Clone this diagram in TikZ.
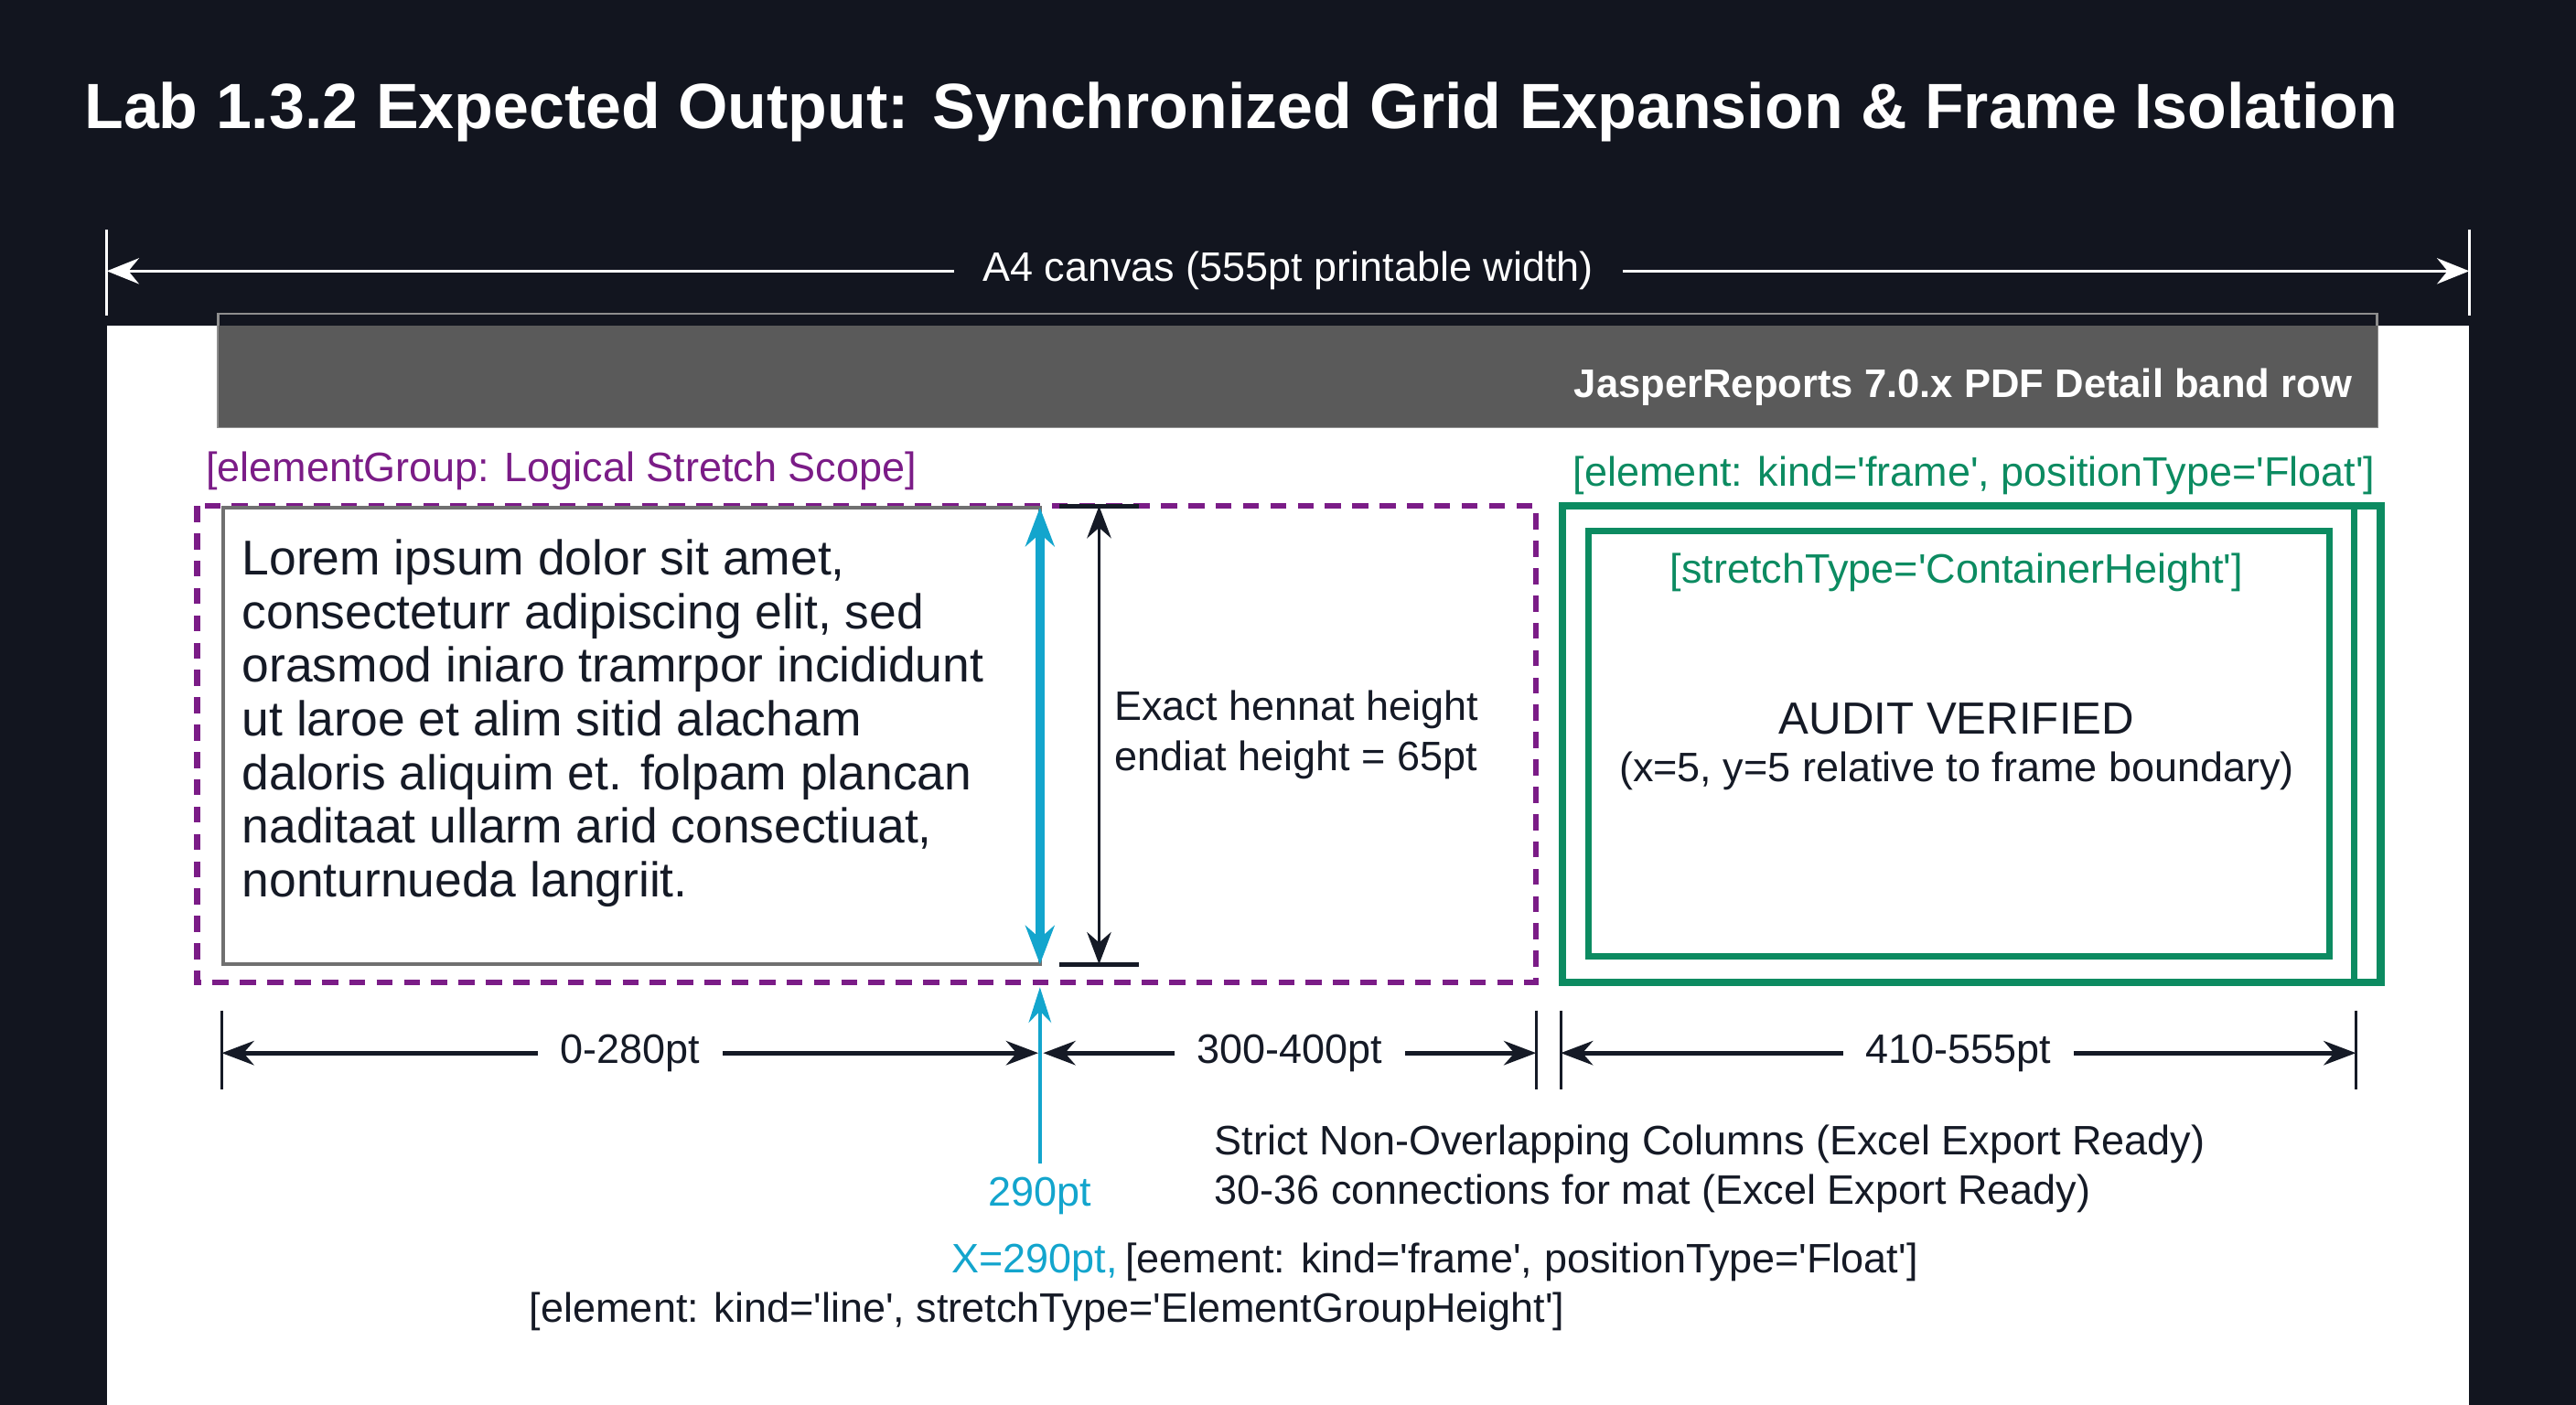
\documentclass[tikz,border=0pt]{standalone}
\usepackage{fontspec}
\setmainfont{Liberation Sans}
\usetikzlibrary{arrows.meta,positioning}
\definecolor{night}{HTML}{12151F}
\definecolor{band}{HTML}{5A5A5A}
\definecolor{bandrim}{HTML}{8E8E8E}
\definecolor{ink}{HTML}{151A26}
\definecolor{group}{HTML}{7B1C87}
\definecolor{frame}{HTML}{0C8B61}
\definecolor{sky}{HTML}{13A5CD}
\definecolor{rim}{HTML}{707070}
\newcommand{\sq}{\textquotesingle}
\tikzset{
  dimw/.style={draw=white, line width=1pt, {Stealth[length=10pt,width=8pt]}-{Stealth[length=10pt,width=8pt]}},
  dimk/.style={draw=ink, line width=1.4pt, {Stealth[length=10pt,width=7.5pt]}-{Stealth[length=10pt,width=7.5pt]}},
  dimc/.style={draw=sky, line width=2.8pt, {Stealth[length=12pt,width=9pt]}-{Stealth[length=12pt,width=9pt]}},
  tickw/.style={draw=white, line width=0.9pt},
  tickk/.style={draw=ink, line width=0.8pt},
  grp/.style={draw=group, line width=1.8pt, dash pattern=on 5pt off 3.5pt},
  frm/.style={draw=frame, line width=2.4pt},
  lab/.style={text=ink, font=\fontsize{12.8}{16.7}\selectfont, inner sep=0pt},
  labw/.style={lab, text=white},
  labc/.style={lab, text=sky},
  dlab/.style={lab, fill=white, inner xsep=7pt, inner ysep=2pt},
}

\begin{document}
\begin{tikzpicture}[x=0.0179592cm, y=-0.0179592cm]
  \useasboundingbox[fill=night] (0,0) rectangle (1568,855);
  % page and band
  \fill[white] (65,198) rectangle (1503,855);
  \draw[bandrim, line width=0.8pt] (133,191) rectangle (1447,260);
  \fill[band] (133,198) rectangle (1447,260);
  \node[labw, anchor=base west, font=\bfseries\fontsize{19.9}{24}\selectfont] (title) at (51,78) {Lab 1.3.2 Expected Output: Synchronized Grid Expansion \& Frame Isolation};
  \node[labw, anchor=base east, font=\bfseries\fontsize{12.4}{15}\selectfont] (bandrow) at (1432,242) {JasperReports 7.0.x PDF Detail band row};

  % canvas width
  \coordinate (CL) at (65,165);
  \coordinate (CR) at (1503,165);
  \foreach \x in {65,1503}
    \draw[tickw] (\x,140) -- (\x,192);
  \draw[dimw] (CL) -- (CR) node[midway, labw, fill=night, inner xsep=9pt, inner ysep=3pt] (canvas) {A4 canvas (555pt printable width)};

  % element group
  \node[lab, text=group, anchor=base west] (grplab) at (125,293) {[elementGroup: Logical Stretch Scope]};
  \draw[grp] (120,308) rectangle (935,598);
  \draw[rim, line width=1pt] (136,309) rectangle (633,587);
  \node[lab, anchor=base west, align=left, font=\fontsize{15.2}{16.7}\selectfont] (body) at (147,546)
    {Lorem ipsum dolor sit amet,\\consecteturr adipiscing elit, sed\\orasmod iniaro tramrpor incididunt\\ut laroe et alim sitid alacham\\daloris aliquim et. folpam plancan\\naditaat ullarm arid consectiuat,\\nonturnueda langriit.};
  \coordinate (HT) at (669,308);
  \coordinate (HB) at (669,587);
  \coordinate (ST) at (633,309);
  \coordinate (SB) at (633,587);
  \draw[tickk, line width=1.4pt] (645,308) -- (693,308);
  \draw[tickk, line width=1.4pt] (645,587) -- (693,587);
  \draw[dimk, line width=1.1pt] (HT) -- (HB);
  \draw[dimc] (ST) -- (SB);
  \node[lab, anchor=base west, align=left, font=\fontsize{12.8}{15.5}\selectfont] (heightlab) at (678,469) {Exact hennat height\\endiat height = 65pt};

  % frame
  \node[lab, text=frame, anchor=base east] (frmlab) at (1446,296) {[element: kind=\sq frame\sq, positionType=\sq Float\sq]};
  \draw[frm] (951,308) rectangle (1449,598);
  \draw[frm, line width=2pt] (1433,308) -- (1433,598);
  \draw[frm, line width=2pt] (967,323) rectangle (1418,582);
  \node[lab, text=frame, anchor=base] (stretchlab) at (1191,355) {[stretchType=\sq ContainerHeight\sq]};
  \node[lab, anchor=base, font=\fontsize{14}{17}\selectfont] (audit) at (1191,447) {AUDIT VERIFIED};
  \node[lab, anchor=base] (auditpos) at (1191,476) {(x=5, y=5 relative to frame boundary)};

  % column widths
  \coordinate (D0) at (135,641);
  \coordinate (D1) at (632,641);
  \coordinate (D2) at (635,641);
  \coordinate (D3) at (935,641);
  \coordinate (D4) at (950,641);
  \coordinate (D5) at (1434,641);
  \foreach \x in {135,935,950,1434}
    \draw[tickk] (\x,615) -- (\x,663);
  \draw[dimk] (D0) -- (D1) node[pos=0.5, dlab] (colA) {0-280pt};
  \draw[dimk] (D2) -- (D3) node[pos=0.5, dlab] (colB) {300-400pt};
  \draw[dimk] (D4) -- (D5) node[pos=0.5, dlab] (colC) {410-555pt};

  % split marker
  \coordinate (MB) at (633,708);
  \coordinate (MT) at (633,601);
  \draw[sky, line width=1pt, -{Stealth[length=11pt,width=7pt]}] (MB) -- (MT);
  \node[labc, anchor=base] (split) at (633,734) {290pt};

  % notes
  \node[lab, anchor=base west, align=left, font=\fontsize{12.8}{15.3}\selectfont] (notes) at (739,733) {Strict Non-Overlapping Columns (Excel Export Ready)\\30-36 connections for mat (Excel Export Ready)};
  \node[labc, anchor=base west] (xeq) at (579,775) {X=290pt,};
  \node[lab, anchor=base west] (floatnote) at ([xshift=2pt]xeq.base east) {[eement: kind=\sq frame\sq, positionType=\sq Float\sq]};
  \node[lab, anchor=base west] (linenote) at (322,805) {[element: kind=\sq line\sq, stretchType=\sq ElementGroupHeight\sq]};
\end{tikzpicture}
\end{document}
